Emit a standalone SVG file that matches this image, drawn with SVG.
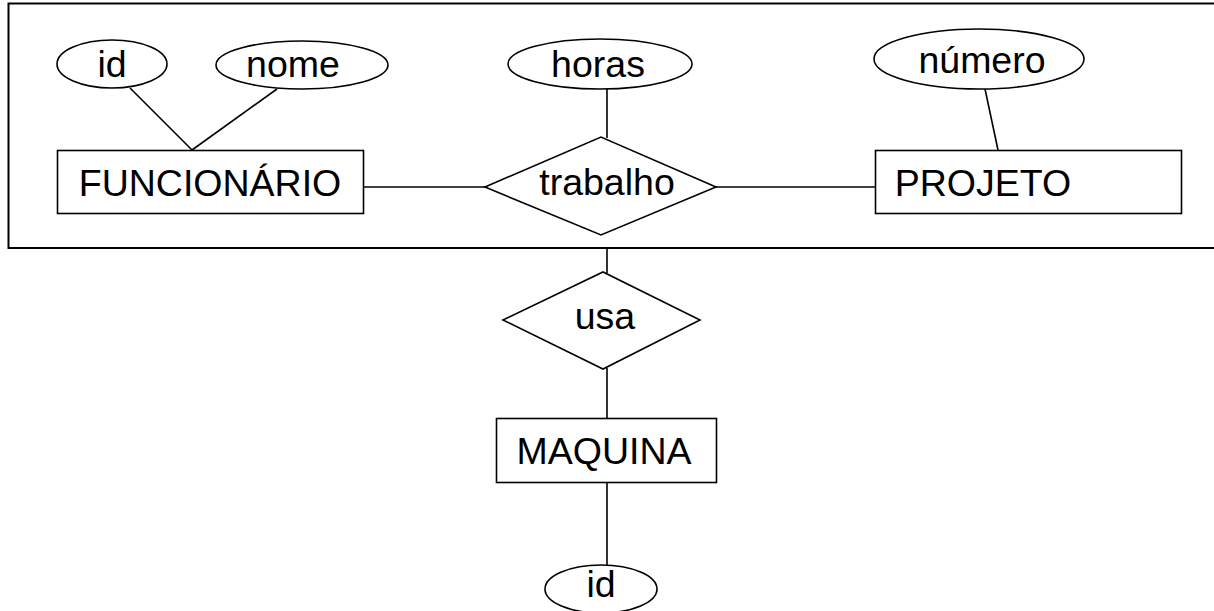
<svg xmlns="http://www.w3.org/2000/svg" width="1214" height="611" viewBox="0 0 1214 611">
  <style>
    .shape { fill: #ffffff; stroke: #000000; stroke-width: 1.6; }
    .frame { fill: none; stroke: #000000; stroke-width: 2; }
    .link { stroke: #000000; stroke-width: 1.6; fill: none; }
    .label { font-family: "Liberation Sans", Arial, sans-serif; font-size: 37.5px; fill: #000000; text-anchor: middle; }
  </style>
  <rect width="1214" height="611" fill="#ffffff"/>

  <!-- aggregation frame around FUNCIONÁRIO / trabalho / PROJETO -->
  <path class="frame" d="M1220 3.5 H8.5 V248 H1220"/>

  <g id="connectors">
    <line class="link" x1="130" y1="88" x2="192" y2="150"/>
    <line class="link" x1="277" y1="89" x2="192" y2="150"/>
    <line class="link" x1="607" y1="89" x2="607" y2="138"/>
    <line class="link" x1="985" y1="89" x2="998" y2="150"/>
    <line class="link" x1="363" y1="187" x2="485" y2="187"/>
    <line class="link" x1="716" y1="187" x2="875" y2="187"/>
    <line class="link" x1="607" y1="248" x2="607" y2="273"/>
    <line class="link" x1="607" y1="368" x2="607" y2="418"/>
    <line class="link" x1="607" y1="482" x2="607" y2="565"/>
  </g>

  <g id="attr-id">
    <ellipse class="shape" cx="112" cy="64" rx="55" ry="24"/>
    <text class="label" x="112" y="77">id</text>
  </g>
  <g id="attr-nome">
    <ellipse class="shape" cx="302" cy="65" rx="86" ry="24"/>
    <text class="label" x="293" y="77">nome</text>
  </g>
  <g id="attr-horas">
    <ellipse class="shape" cx="600" cy="64" rx="92" ry="25"/>
    <text class="label" x="598" y="77">horas</text>
  </g>
  <g id="attr-numero">
    <ellipse class="shape" cx="979" cy="59" rx="105" ry="30"/>
    <text class="label" x="982" y="73">número</text>
  </g>

  <g id="entity-funcionario">
    <rect class="shape" x="57.5" y="150.5" width="306" height="63"/>
    <text class="label" x="210" y="196">FUNCIONÁRIO</text>
  </g>
  <g id="rel-trabalho">
    <polygon class="shape" points="485,187 601,137 716,187 601,235"/>
    <text class="label" x="607" y="195">trabalho</text>
  </g>
  <g id="entity-projeto">
    <rect class="shape" x="875.5" y="150.5" width="306" height="63"/>
    <text class="label" x="983" y="196">PROJETO</text>
  </g>

  <g id="rel-usa">
    <polygon class="shape" points="503,320 603,272 700,320 603,369"/>
    <text class="label" x="605" y="329">usa</text>
  </g>
  <g id="entity-maquina">
    <rect class="shape" x="496.5" y="418.5" width="220" height="64"/>
    <text class="label" x="604" y="464">MAQUINA</text>
  </g>
  <g id="attr-maquina-id">
    <ellipse class="shape" cx="601" cy="589" rx="56" ry="24"/>
    <text class="label" x="601" y="597">id</text>
  </g>
</svg>
